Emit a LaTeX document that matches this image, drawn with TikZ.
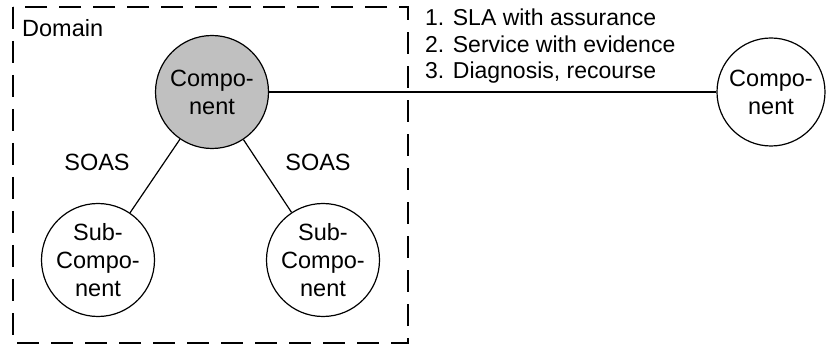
\documentclass[tikz,border=0pt]{standalone}
\usepackage{fontspec}
\setmainfont{Liberation Sans}
\usepackage{xcolor}
\definecolor{compfill}{RGB}{192, 192, 192}
\usepackage{tikz}
\usetikzlibrary{positioning}

\begin{document}
\begin{tikzpicture}[x=1pt, y=-1pt,
    every node/.style={font=\fontsize{23.5}{28}\selectfont, inner sep=0pt},
    comp/.style={draw, line width=1.2pt, circle, align=center, minimum size=#1},
    comp/.default=113pt]
  \useasboundingbox (0,0) rectangle (827,347);

  % Domain
  \draw[line width=1.2pt, dash pattern=on 22pt off 12pt] (13,7) rectangle (408,343);
  \node[anchor=base west] (domain) at (22,37) {Domain};

  % Components
  \node[comp, fill=compfill] (comp) at (212,92) {Compo-\\nent};
  \node[comp] (subleft) at (98,260) {Sub-\\Compo-\\nent};
  \node[comp] (subright) at (323,260) {Sub-\\Compo-\\nent};
  \node[comp=108pt] (extcomp) at (771,92) {Compo-\\nent};

  % Links
  \draw[line width=1.2pt] (comp) -- (subleft);
  \draw[line width=1.2pt] (comp) -- (subright);
  \draw[line width=1.2pt] (comp) -- (extcomp);

  % Labels
  \node (soasleft) at (97,162) {SOAS};
  \node (soasright) at (318,162) {SOAS};
  \node[anchor=north west, align=left,
        font=\fontsize{23}{26.5}\selectfont] (steps) at (425,9)
    {1. SLA with assurance\\2. Service with evidence\\3. Diagnosis, recourse};
\end{tikzpicture}
\end{document}
